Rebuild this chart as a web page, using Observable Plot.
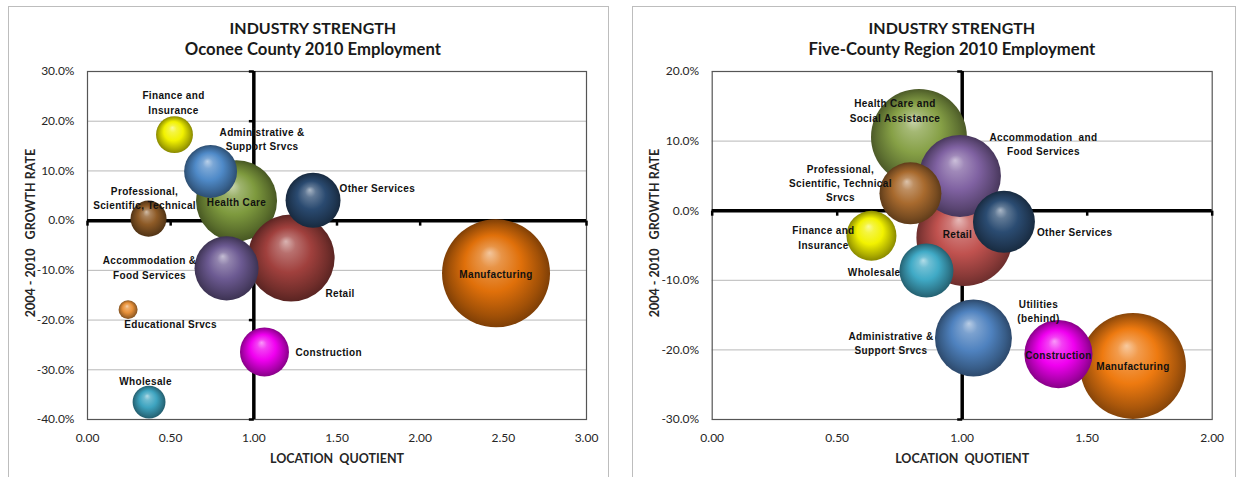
<!DOCTYPE html>
<html><head><meta charset="utf-8">
<script src="https://cdn.jsdelivr.net/npm/d3@7"></script>
<script src="https://cdn.jsdelivr.net/npm/@observablehq/plot@0.6"></script>
<style>
html,body{margin:0;padding:0;background:#fff;overflow:hidden;}
#wrap{position:relative;width:1243px;height:477px;overflow:hidden;}
.chart{position:absolute;top:0;}
.panel{position:absolute;border:1px solid #bdbdbd;pointer-events:none;box-sizing:border-box;}
</style></head><body><div id="wrap"></div>
<script>
// ---------- DATA ----------
// Oconee County 2010 employment (draw order)
const oconeeIndustry = ["Health Care","Retail","Other Services","Administrative & Support Srvcs","Accommodation & Food Services","Finance and Insurance","Professional, Scientific, Technical","Manufacturing","Educational Srvcs","Construction","Wholesale"];
const oconeeLabel = ["Health Care","Retail","Other Services","Administrative &\nSupport Srvcs","Accommodation &\nFood Services","Finance and\nInsurance","Professional,\nScientific, Technical","Manufacturing","Educational Srvcs","Construction","Wholesale"];
const oconeeLQ = [0.896, 1.224, 1.356, 0.740, 0.836, 0.523, 0.367, 2.456, 0.244, 1.064, 0.370];
const oconeeGrowth = [4.0, -7.5, 4.1, 9.9, -9.6, 17.3, 0.4, -10.6, -17.9, -26.4, -36.5];
const oconeeEmployment = [3280, 3790, 1510, 1400, 2050, 680, 650, 5830, 180, 1200, 540];

// Five-County Region 2010 employment (draw order)
const regionIndustry = ["Health Care and Social Assistance","Retail","Accommodation and Food Services","Professional, Scientific, Technical Srvcs","Other Services","Finance and Insurance","Wholesale","Administrative & Support Srvcs","Manufacturing","Utilities","Construction"];
const regionLabel = ["Health Care and\nSocial Assistance","Retail","Accommodation  and\nFood Services","Professional,\nScientific, Technical\nSrvcs","Other Services","Finance and\nInsurance","Wholesale","Administrative &\nSupport Srvcs","Manufacturing","Utilities\n(behind)","Construction"];
const regionLQ = [0.827, 1.009, 0.991, 0.793, 1.167, 0.637, 0.857, 1.045, 1.683, 1.305, 1.385];
const regionGrowth = [10.6, -3.9, 5.0, 2.5, -1.6, -3.6, -8.6, -18.3, -22.3, -20.3, -20.6];
const regionEmployment = [23000, 23100, 16800, 9600, 9600, 6250, 7300, 14800, 28100, 1000, 11600];

// Axis ticks
const oconeeXTicks = [0, 0.5, 1, 1.5, 2, 2.5, 3];
const oconeeYTicks = [30, 20, 10, 0, -10, -20, -30, -40];
const regionXTicks = [0, 0.5, 1, 1.5, 2];
const regionYTicks = [20, 10, 0, -10, -20, -30];

// Titles
const oconeeTitle = ["INDUSTRY STRENGTH", "Oconee County 2010 Employment"];
const regionTitle = ["INDUSTRY STRENGTH", "Five-County Region 2010 Employment"];
const xTitle = "LOCATION  QUOTIENT";
const yTitle = "2004 - 2010   GROWTH RATE";

// ---------- STYLE / LAYOUT ----------
const colorsLeft = {
  "Health Care":"#7e9a3e","Retail":"#a0403d","Other Services":"#2a4a70","Administrative & Support Srvcs":"#4f8ac8",
  "Accommodation & Food Services":"#6c5a92","Finance and Insurance":"#f2f200","Professional, Scientific, Technical":"#8d5a26",
  "Manufacturing":"#e0700a","Educational Srvcs":"#e8913a","Construction":"#f000f0","Wholesale":"#3ea4c0"
};
const colorsRight = {
  "Health Care and Social Assistance":"#86a046","Retail":"#c0524f","Accommodation and Food Services":"#8062a2",
  "Professional, Scientific, Technical Srvcs":"#a86a2e","Other Services":"#2b4c72","Finance and Insurance":"#f2f200",
  "Wholesale":"#40aac6","Administrative & Support Srvcs":"#4f82bf","Manufacturing":"#ee7a10","Utilities":"#9bbb59","Construction":"#f000f0"
};
const labelPosLeft = {
  "Health Care":[0,1,"middle"],"Retail":[49,34.5,"middle"],"Other Services":[26.5,-12.5,"start"],
  "Administrative & Support Srvcs":[51.5,-32.7,"middle"],"Accommodation & Food Services":[-77,-1.5,"middle"],
  "Finance and Insurance":[-1,-32.7,"middle"],"Professional, Scientific, Technical":[-4,-21.3,"middle"],
  "Manufacturing":[0,0,"middle"],"Educational Srvcs":[42.5,14.3,"middle"],"Construction":[31,-0.8,"start"],
  "Wholesale":[-3.5,-21.5,"middle"]
};
const labelPosRight = {
  "Health Care and Social Assistance":[-24,-27,"middle"],"Retail":[-7,-4,"middle"],
  "Accommodation and Food Services":[83.5,-32.2,"middle"],"Professional, Scientific, Technical Srvcs":[-70,-10.8,"middle"],
  "Other Services":[33,9.7,"start"],"Finance and Insurance":[-48,1.2,"middle"],"Wholesale":[-26,1,"end"],
  "Administrative & Support Srvcs":[-82.5,4,"middle"],"Manufacturing":[0,-0.5,"middle"],
  "Utilities":[0,-41.6,"middle"],"Construction":[0,0.5,"middle"]
};

const FONT = "Lato, 'Liberation Sans', Arial, sans-serif";
const LABEL_FONT = "'Liberation Sans', Arial, sans-serif";
const tickDown = {draw(ctx){ ctx.moveTo(0,0); ctx.lineTo(0,5); }};
const tickLeft = {draw(ctx){ ctx.moveTo(0,0); ctx.lineTo(-5,0); }};

function makePanel(c) {
  const rows = c.industry.map((name, i) => ({i, name, lq: c.lq[i], growth: c.growth[i], emp: c.emp[i], label: c.label[i]}));
  const maxEmp = d3.max(c.emp);
  const txt = {lineAnchor: "middle", textAnchor: "middle", fontFamily: FONT, fill: "#262626"};
  const marks = [
    Plot.ruleY(c.yTicks, {y: d => d, stroke: "#b8b8b8", strokeWidth: 1}),
    Plot.frame({stroke: "#555", strokeWidth: 1.2}),
    Plot.ruleY([0], {stroke: "#000", strokeWidth: 3.5}),
    Plot.ruleX([1], {stroke: "#000", strokeWidth: 3.5}),
    Plot.dot(c.xTicks, {x: d => d, y: () => 0, symbol: tickDown, stroke: "#000", strokeWidth: 2.5, fill: "none"}),
    Plot.dot(c.yTicks, {x: () => 1, y: d => d, symbol: tickLeft, stroke: "#000", strokeWidth: 2.5, fill: "none"}),
    Plot.dot(rows, {x: "lq", y: "growth", r: "emp", fill: d => `url(#${c.id}-g${d.i})`, stroke: "none", sort: null}),
    ...rows.map(d => {
      const p = c.labelPos[d.name];
      return Plot.text([d], {x: "lq", y: "growth", text: "label", dx: p[0], dy: p[1], textAnchor: p[2], lineAnchor: "middle",
        fontSize: 10, fontWeight: "bold", fontFamily: LABEL_FONT, fill: "#111", lineHeight: 1.42});
    }),
    Plot.text(c.yTicks, {...txt, y: d => d, frameAnchor: "left", dx: -13, textAnchor: "end", text: d => d.toFixed(1) + "%", fontSize: 12}),
    Plot.text(c.xTicks, {...txt, x: d => d, frameAnchor: "bottom", dy: 18.7, text: d => d.toFixed(2), fontSize: 12}),
    Plot.text([xTitle], {...txt, frameAnchor: "bottom", dy: 39.3, text: d => d, fontSize: 12.5, fontWeight: "bold"}),
    Plot.text([yTitle], {...txt, frameAnchor: "left", dx: -57, dy: -12.5, rotate: -90, text: d => d, fontSize: 12.5, fontWeight: "bold"}),
    Plot.text([c.title[0]], {...txt, frameAnchor: "top", dx: c.titleDx, dy: -42.2, text: d => d, fontSize: 16, fontWeight: "bold", fill: "#1a1a1a"}),
    Plot.text([c.title[1]], {...txt, frameAnchor: "top", dx: c.titleDx, dy: -21.7, text: d => d, fontSize: 16.7, fontWeight: "bold", fill: "#1a1a1a"})
  ];
  const el = Plot.plot({
    width: c.width, height: 477,
    marginLeft: c.ml, marginRight: c.mr, marginTop: 71, marginBottom: 58,
    x: {domain: [c.xTicks[0], c.xTicks[c.xTicks.length - 1]], axis: null},
    y: {domain: [c.yTicks[c.yTicks.length - 1], c.yTicks[0]], axis: null},
    r: {type: "sqrt", domain: [0, maxEmp], range: [0, c.maxR]},
    color: {type: "identity"},
    style: {background: "transparent", overflow: "visible"},
    marks
  });
  const svg = d3.select(el);
  const defs = svg.insert("defs", ":first-child");
  rows.forEach(d => {
    const base = d3.rgb(c.colors[d.name]);
    const mix = d3.interpolateRgb(base, "#ffffff");
    const g = defs.append("radialGradient").attr("id", `${c.id}-g${d.i}`)
      .attr("cx", "50%").attr("cy", "50%").attr("r", "50%").attr("fx", "44%").attr("fy", "31%");
    [[0, mix(0.6)], [0.2, mix(0.25)], [0.52, base.formatHex()], [0.85, base.darker(0.95).formatHex()], [1, base.darker(1.6).formatHex()]]
      .forEach(([o, col]) => g.append("stop").attr("offset", o).attr("stop-color", col));
  });
  svg.selectAll('g[font-size="10"][font-weight="bold"]').attr("letter-spacing", "0.35px");
  el.classList.add("chart");
  el.style.left = c.left + "px";
  return el;
}

const wrap = document.getElementById("wrap");
wrap.appendChild(makePanel({
  id: "oc", industry: oconeeIndustry, label: oconeeLabel, lq: oconeeLQ, growth: oconeeGrowth, emp: oconeeEmployment,
  xTicks: oconeeXTicks, yTicks: oconeeYTicks, title: oconeeTitle, colors: colorsLeft, labelPos: labelPosLeft,
  width: 620, left: 0, ml: 87, mr: 34, maxR: 54, titleDx: -24.1
}));
wrap.appendChild(makePanel({
  id: "rg", industry: regionIndustry, label: regionLabel, lq: regionLQ, growth: regionGrowth, emp: regionEmployment,
  xTicks: regionXTicks, yTicks: regionYTicks, title: regionTitle, colors: colorsRight, labelPos: labelPosRight,
  width: 623, left: 620, ml: 91.7, mr: 31.3, maxR: 53, titleDx: -10.3
}));
[[8, 601], [632, 604]].forEach(([l, w]) => {
  const p = document.createElement("div");
  p.className = "panel";
  p.style.left = l + "px"; p.style.top = "6px"; p.style.width = w + "px"; p.style.height = "490px";
  wrap.appendChild(p);
});
</script></body></html>
